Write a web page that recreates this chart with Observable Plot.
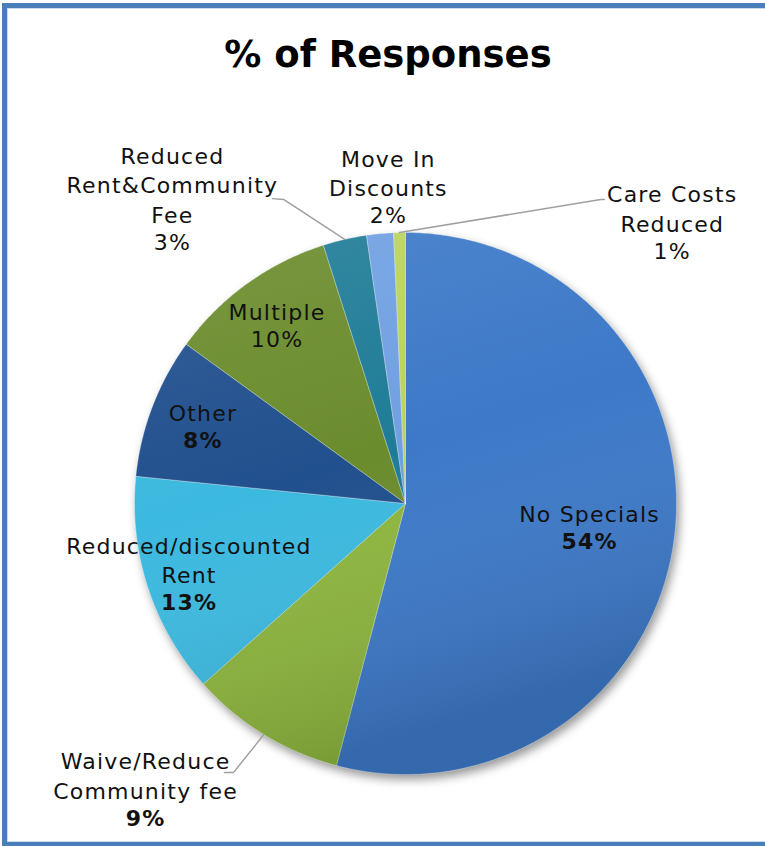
<!DOCTYPE html>
<html><head><meta charset="utf-8">
<script src="https://cdn.jsdelivr.net/npm/d3@7"></script>
<script src="https://cdn.jsdelivr.net/npm/@observablehq/plot@0.6"></script>
<style>
html,body{margin:0;padding:0;background:#fff;overflow:hidden;}
#wrap{position:relative;width:765px;height:846px;overflow:hidden;background:#fff;}
#frame{position:absolute;left:2px;top:3px;width:820px;height:844px;border:5px solid #4a7ebb;box-shadow:inset 0 0 0 1px #c9d9ee;box-sizing:border-box;}
#title{position:absolute;left:0;top:35px;width:776px;text-align:center;font:bold 37px "DejaVu Sans";line-height:40px;color:#000;}
#chart{position:absolute;left:0;top:0;}
#chart svg text{letter-spacing:1.2px;}
</style></head>
<body>
<div id="wrap">
  <div id="frame"></div>
  <div id="chart"></div>
  <div id="title">% of Responses</div>
</div>
<script>
// ---- data ----
const categories = ["No Specials","Waive/Reduce Community fee","Reduced/discounted Rent","Other","Multiple","Reduced Rent&Community Fee","Move In Discounts","Care Costs Reduced"];
const values = [54.1, 9.3, 13.2, 8.4, 10.1, 2.6, 1.6, 0.7];
const pctLabels = ["54%","9%","13%","8%","10%","3%","2%","1%"];
const labelLines = [["No Specials"],["Waive/Reduce","Community fee"],["Reduced/discounted","Rent"],["Other"],["Multiple"],["Reduced","Rent&Community","Fee"],["Move In","Discounts"],["Care Costs","Reduced"]];
const colors = ["#3d79c8","#8db53e","#3cb9df","#21508e","#6b8c2d","#1f7c97","#70a0e2","#b9d45d"];

// ---- style / layout ----
const R = 271, cx = 405, cy = 503;
const fontSize = 22, lineH = 29.5;
const boldPct = [true,true,true,true,false,false,false,false];
// label placement: angle (deg clockwise from top; null = slice middle) and radius factor
const labelPlace = [{a:null,r:0.685},{a:222.3,r:1.425},{a:null,r:0.84},{a:null,r:0.80},{a:null,r:0.81},{a:322.6,r:1.416},{a:356.9,r:1.17},{a:43.5,r:1.43}];
// leader elbows (in radius units) for outside labels
const leaders = [
  {i:5, pts:[[-0.450,1.122],[-0.491,1.125]]},
  {i:7, pts:[[0.720,1.122],[0.734,1.122]]},
  {i:1, pts:[[-0.635,-0.993],[-0.668,-0.993]]}
];

const arcs = d3.pie().sort(null).value(d => d)(values);
const mid = arcs.map(p => (p.startAngle + p.endAngle) / 2);

const slicePts = [];
arcs.forEach((p, i) => {
  const n = Math.max(3, Math.ceil((p.endAngle - p.startAngle) / 0.01));
  slicePts.push({name: categories[i], x: 0, y: 0});
  for (let k = 0; k <= n; k++) {
    const a = p.startAngle + (p.endAngle - p.startAngle) * k / n;
    slicePts.push({name: categories[i], x: Math.sin(a), y: Math.cos(a)});
  }
  slicePts.push({name: categories[i], x: 0, y: 0});
});

const labels = categories.map((c, i) => {
  const pl = labelPlace[i];
  const a = pl.a == null ? mid[i] : pl.a * Math.PI / 180;
  const ax = pl.r * Math.sin(a), ay = pl.r * Math.cos(a);
  const k = labelLines[i].length;
  return {name: labelLines[i].join("\n"), pct: pctLabels[i], bold: boldPct[i],
    x: ax, nameY: ay + (lineH / 2) / R, pctY: ay - (k * lineH / 2) / R};
});

const leaderPts = [];
leaders.forEach((l, j) => {
  leaderPts.push({id: j, x: Math.sin(mid[l.i]), y: Math.cos(mid[l.i])});
  l.pts.forEach(p => leaderPts.push({id: j, x: p[0], y: p[1]}));
});

const font = "DejaVu Sans";
const chart = Plot.plot({
  width: 765, height: 846, margin: 0,
  style: {background: "transparent", overflow: "visible"},
  x: {domain: [-1, 1], range: [cx - R, cx + R], axis: null},
  y: {domain: [-1, 1], range: [cy + R, cy - R], axis: null},
  color: {domain: categories, range: colors},
  marks: [
    Plot.line(slicePts, {x: "x", y: "y", z: "name", fill: "name", stroke: "#ffffff", strokeOpacity: 0.3, strokeWidth: 1}),
    Plot.dot([{x: 0, y: 0}], {x: "x", y: "y", r: R, fill: "url(#pieShade)", stroke: "none"}),
    Plot.line(leaderPts, {x: "x", y: "y", z: "id", stroke: "#a0a0a0", strokeWidth: 1.5}),
    Plot.text(labels, {x: "x", y: "nameY", text: "name", lineAnchor: "middle", lineHeight: lineH / fontSize, fontSize, fontFamily: font, fill: "#111"}),
    Plot.text(labels.filter(d => d.bold), {x: "x", y: "pctY", text: "pct", lineAnchor: "middle", fontSize, fontFamily: font, fontWeight: "bold", fill: "#111"}),
    Plot.text(labels.filter(d => !d.bold), {x: "x", y: "pctY", text: "pct", lineAnchor: "middle", fontSize, fontFamily: font, fill: "#111"})
  ]
});
// gradient used for the pie's soft shading
const ns = "http://www.w3.org/2000/svg";
const defs = document.createElementNS(ns, "defs");
defs.innerHTML = '<linearGradient id="pieShade" x1="0" y1="0" x2="0.3" y2="1">' +
  '<stop offset="0" stop-color="#ffffff" stop-opacity="0.10"/>' +
  '<stop offset="0.5" stop-color="#ffffff" stop-opacity="0"/>' +
  '<stop offset="1" stop-color="#000000" stop-opacity="0.14"/></linearGradient>';
chart.insertBefore(defs, chart.firstChild);
document.getElementById("chart").appendChild(chart);
const g = chart.querySelector('g[aria-label="line"]');
if (g) g.style.filter = "drop-shadow(3px 5px 5px rgba(0,0,0,0.4))";
</script>
</body></html>
